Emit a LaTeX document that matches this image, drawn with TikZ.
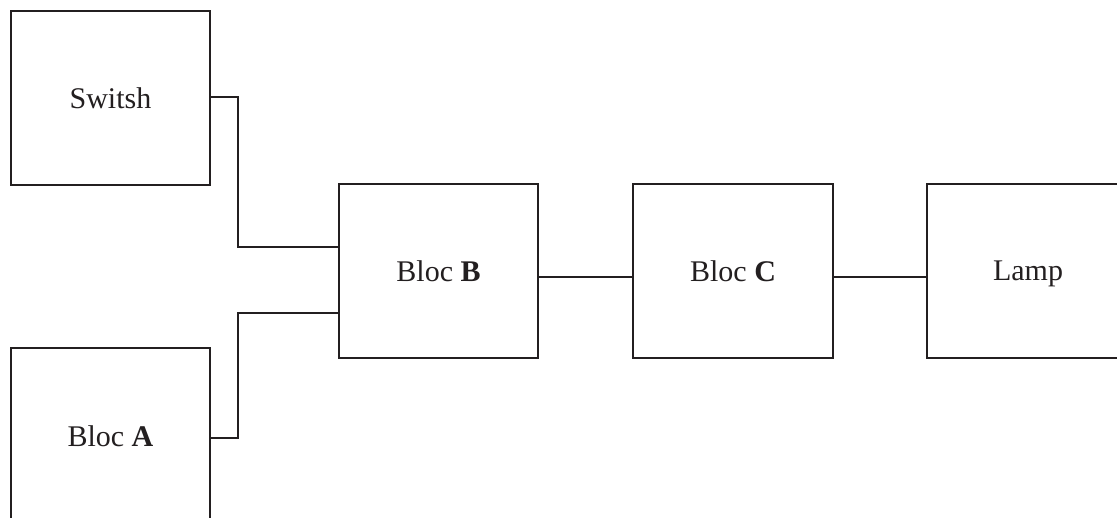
\documentclass[tikz,border=0pt]{standalone}
\usepackage{fontspec}
\setmainfont{Liberation Serif}
\definecolor{ink}{HTML}{231F20}
\begin{document}
\begin{tikzpicture}[x=1pt,y=-1pt,
  blk/.style={draw=ink, line width=2pt, fill=white, minimum height=174pt, inner sep=0pt,
    font=\fontsize{30}{36}\selectfont, text=ink, text depth=0pt},
  wire/.style={draw=ink, line width=2pt}]
\useasboundingbox (0,0) rectangle (1117,517);
\clip (0,0) rectangle (1117,517);
\node[blk, minimum width=199pt] (S) at (110.5,98) {Switsh};
\node[blk, minimum width=199pt, minimum height=176pt] (A) at (110.5,436) {Bloc \textbf{A}};
\node[blk, minimum width=199pt] (B) at (438.5,271) {Bloc \textbf{B}};
\node[blk, minimum width=200pt] (C) at (733,271) {Bloc \textbf{C}};
\node[blk, minimum width=202pt] (L) at (1028,271) {Lamp};
\draw[wire] ([yshift=1pt]S.east) -- ++(27,0) |- ([yshift=24pt]B.west);
\draw[wire] ([yshift=-2pt]A.east) -- ++(27,0) |- ([yshift=-42pt]B.west);
\draw[wire] ([yshift=-6pt]B.east) -- ([yshift=-6pt]C.west);
\draw[wire] ([yshift=-6pt]C.east) -- ([yshift=-6pt]L.west);
\end{tikzpicture}
\end{document}
